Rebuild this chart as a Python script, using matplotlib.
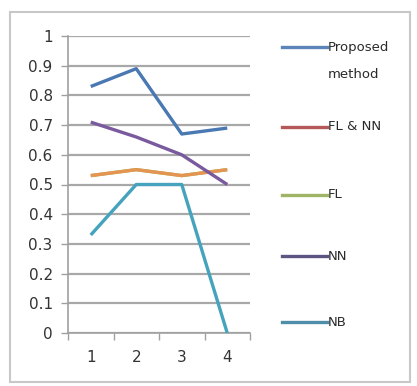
import matplotlib.pyplot as plt
from matplotlib.lines import Line2D
from matplotlib.patches import Rectangle

# accuracy per test set, one list per method
x = [1, 2, 3, 4]
proposed = [0.83, 0.89, 0.67, 0.69]
fl_nn = [0.53, 0.55, 0.53, 0.55]
fl = [0.53, 0.55, 0.53, 0.55]
nn = [0.71, 0.66, 0.60, 0.50]
nb = [0.33, 0.50, 0.50, 0.0]

names = ['Proposed\nmethod', 'FL & NN', 'FL', 'NN', 'NB']
series = [proposed, fl_nn, fl, nn, nb]
line_colors = ['#4a78b2', '#e59452', '#9bbb59', '#7a5a9e', '#45a3bd']
key_colors = ['#5b84b8', '#b5585a', '#a0b466', '#5d5484', '#4f8eaa']
draw_order = [2, 1, 3, 0, 4]
legend_y = [47, 127, 195, 256, 322]

fig = plt.figure(figsize=(4.17, 3.86), dpi=100)
W, H = 417, 386

# outer chart frame
fig.add_artist(Rectangle((10 / W, 1 - 382 / H), 400 / W, 370 / H,
                         transform=fig.transFigure, fill=False,
                         edgecolor='#c8c8c8', linewidth=1.5))

ax = fig.add_axes([68 / W, 1 - 333 / H, (250 - 68) / W, (333 - 36) / H])

for i in draw_order:
    ax.plot(x, series[i], color=line_colors[i], linewidth=2.4,
            solid_capstyle='butt', zorder=3)

ax.set_xlim(0.5, 4.5)
ax.set_ylim(0, 1)
ax.set_yticks([i / 10 for i in range(11)])
ax.set_yticklabels(['0'] + ['0.%d' % i for i in range(1, 10)] + ['1'],
                   fontsize=11, color='#333333')
ax.yaxis.grid(True, color='#a8a8a8', linewidth=1.6)
ax.set_axisbelow(True)

ax.set_xticks(x)
ax.set_xticklabels([str(v) for v in x], fontsize=11, color='#333333')
ax.tick_params(axis='x', which='major', length=0, pad=12)
ax.set_xticks([0.5, 1.5, 2.5, 3.5, 4.5], minor=True)
ax.tick_params(axis='x', which='minor', length=5, color='#a0a0a0', width=1)
ax.tick_params(axis='y', length=5, color='#a0a0a0', width=1, pad=6)

for s in ['top', 'right']:
    ax.spines[s].set_visible(False)
for s in ['left', 'bottom']:
    ax.spines[s].set_color('#a0a0a0')
    ax.spines[s].set_linewidth(1.2)

# legend keys to the right of the plot
for i, name in enumerate(names):
    yf = 1 - legend_y[i] / H
    fig.add_artist(Line2D([282 / W, 327 / W], [yf, yf], transform=fig.transFigure,
                          color=key_colors[i], linewidth=2.4))
    for k, part in enumerate(name.split('\n')):
        fig.text(328 / W, yf - k * 28 / H, part, fontsize=9.5,
                 color='#2a2a2a', va='center')

fig.savefig('out.png', dpi=100)
